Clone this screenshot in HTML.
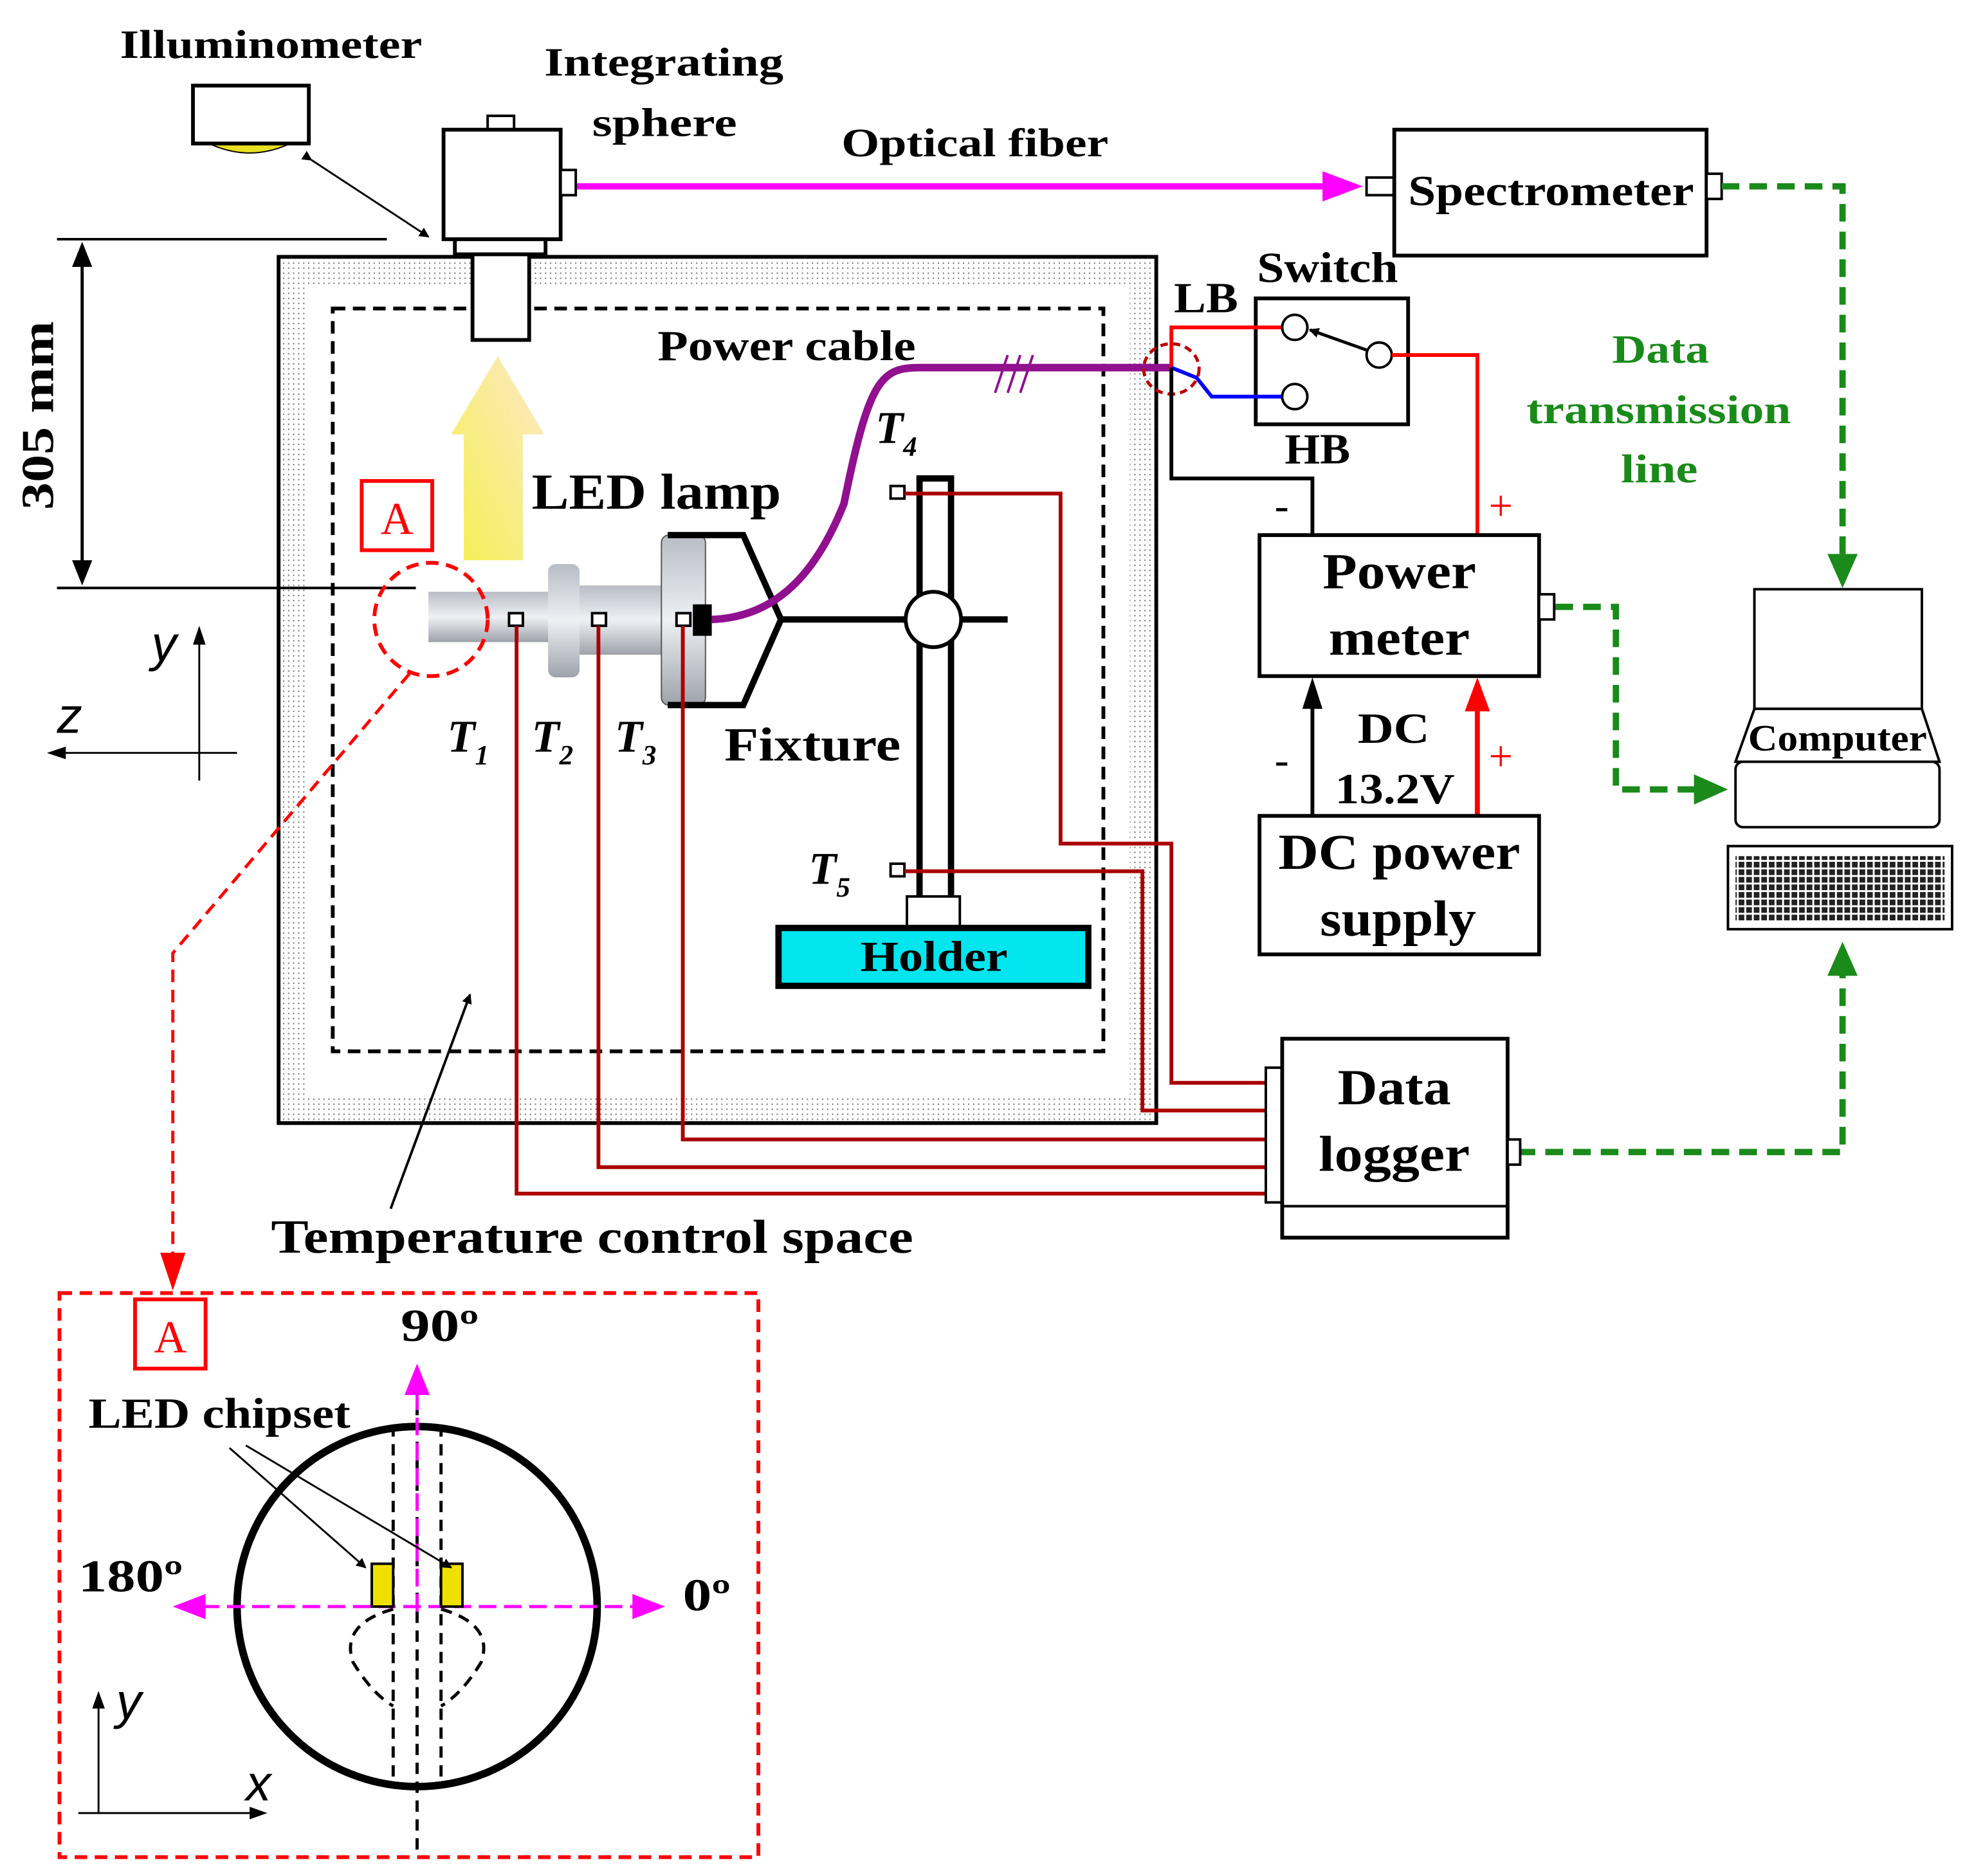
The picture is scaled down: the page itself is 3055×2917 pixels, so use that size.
<!DOCTYPE html>
<html><head><meta charset="utf-8"><style>html,body{margin:0;padding:0;background:#fff}svg{display:block}</style></head>
<body>
<svg width="3055" height="2917" viewBox="0 0 1560 1490" xmlns="http://www.w3.org/2000/svg" font-family="Liberation Serif, serif" font-weight="bold">
<defs>
<pattern id="dots" width="4" height="4" patternUnits="userSpaceOnUse"><rect width="4" height="4" fill="#fff"/><circle cx="1" cy="1" r="0.6" fill="#777"/></pattern>
<pattern id="kb" width="6" height="6" patternUnits="userSpaceOnUse"><rect width="6" height="6" fill="#fff"/><rect x="0.5" y="0.5" width="4.5" height="4.5" fill="#222"/></pattern>
<linearGradient id="ya" x1="0" y1="1" x2="1" y2="0"><stop offset="0" stop-color="#f4f050"/><stop offset="1" stop-color="#fde8c8"/></linearGradient>
<linearGradient id="met" x1="0" y1="0" x2="0" y2="1"><stop offset="0" stop-color="#b8bcc4"/><stop offset="0.5" stop-color="#eef0f4"/><stop offset="1" stop-color="#9ea2aa"/></linearGradient>
<marker id="mk" markerWidth="8" markerHeight="8" refX="7" refY="4" orient="auto" markerUnits="userSpaceOnUse"><path d="M0,0 L8,4 L0,8 z" fill="#000"/></marker>
</defs>
<!-- chamber -->
<rect x="221" y="204" width="697" height="688" fill="url(#dots)" stroke="#000" stroke-width="3"/>
<rect x="243" y="226" width="654" height="644" fill="#fff"/>
<rect x="264" y="245" width="612" height="590" fill="none" stroke="#000" stroke-width="3" stroke-dasharray="10,6"/>
<!-- illuminometer -->
<text x="95" y="46" font-size="32" textLength="240" lengthAdjust="spacingAndGlyphs">Illuminometer</text>
<rect x="153" y="68" width="92" height="46" fill="#fff" stroke="#000" stroke-width="3"/>
<path d="M168,115 Q198,128 228,115 z" fill="#e8e020" stroke="#000" stroke-width="1"/>
<line x1="247" y1="127" x2="340" y2="188" stroke="#000" stroke-width="1.5" marker-end="url(#mk)" marker-start="url(#mk)"/>
<!-- integrating sphere -->
<text x="432" y="60" font-size="32" textLength="190" lengthAdjust="spacingAndGlyphs">Integrating</text>
<text x="470" y="108" font-size="32" textLength="115" lengthAdjust="spacingAndGlyphs">sphere</text>
<rect x="387" y="92" width="21" height="11" fill="#fff" stroke="#000" stroke-width="2"/>
<rect x="352" y="103" width="93" height="87" fill="#fff" stroke="#000" stroke-width="3"/>
<rect x="445" y="135" width="12" height="20" fill="#fff" stroke="#000" stroke-width="2"/>
<rect x="361" y="190" width="72" height="12" fill="#fff" stroke="#000" stroke-width="3"/>
<rect x="375" y="202" width="45" height="68" fill="#fff" stroke="#000" stroke-width="3"/>
<!-- optical fiber -->
<text x="668" y="124" font-size="32" textLength="212" lengthAdjust="spacingAndGlyphs">Optical fiber</text>
<line x1="458" y1="148" x2="1055" y2="148" stroke="#f0f" stroke-width="5"/>
<path d="M1050,136 L1082,148 L1050,160 z" fill="#f0f"/>
<rect x="1085" y="141" width="22" height="14" fill="#fff" stroke="#000" stroke-width="2"/>
<rect x="1107" y="103" width="248" height="100" fill="#fff" stroke="#000" stroke-width="3"/>
<text x="1118" y="163" font-size="34" textLength="227" lengthAdjust="spacingAndGlyphs">Spectrometer</text>
<rect x="1355" y="138" width="12" height="20" fill="#fff" stroke="#000" stroke-width="2"/>
<!-- green data lines -->
<g stroke="#1a8a1a" stroke-width="5" fill="none" stroke-dasharray="14,8">
<path d="M1367,148 H1463 V445"/>
<path d="M1235,482 H1283 V627 H1350"/>
<path d="M1205,915 H1463 V770"/>
</g>
<path d="M1451,440 L1463,467 L1475,440 z" fill="#1a8a1a"/>
<path d="M1345,615 L1372,627 L1345,639 z" fill="#1a8a1a"/>
<path d="M1451,775 L1463,748 L1475,775 z" fill="#1a8a1a"/>
<text x="1280" y="288" font-size="32" fill="#1a8a1a" textLength="77" lengthAdjust="spacingAndGlyphs">Data</text>
<text x="1212" y="336" font-size="32" fill="#1a8a1a" textLength="210" lengthAdjust="spacingAndGlyphs">transmission</text>
<text x="1287" y="383" font-size="32" fill="#1a8a1a" textLength="61" lengthAdjust="spacingAndGlyphs">line</text>
<!-- computer -->
<rect x="1393" y="468" width="133" height="95" fill="#fff" stroke="#000" stroke-width="2"/>
<path d="M1393,563 L1378,605 H1540 L1526,563 z" fill="#fff" stroke="#000" stroke-width="2"/>
<rect x="1378" y="605" width="162" height="52" rx="6" fill="#fff" stroke="#000" stroke-width="2"/>
<text x="1388" y="596" font-size="30" textLength="142" lengthAdjust="spacingAndGlyphs">Computer</text>
<rect x="1372" y="672" width="178" height="66" fill="#fff" stroke="#000" stroke-width="2"/>
<rect x="1378" y="680" width="166" height="52" fill="url(#kb)"/>
<!-- dimension -->
<line x1="45" y1="190" x2="307" y2="190" stroke="#000" stroke-width="2"/>
<line x1="45" y1="467" x2="330" y2="467" stroke="#000" stroke-width="2"/>
<line x1="65" y1="200" x2="65" y2="457" stroke="#000" stroke-width="2.5"/>
<path d="M57,212 L65,192 L73,212 z M57,445 L65,465 L73,445 z" fill="#000"/>
<text transform="translate(42,330) rotate(-90)" font-size="36" text-anchor="middle" textLength="150" lengthAdjust="spacingAndGlyphs">305 mm</text>
<!-- axes -->
<line x1="158" y1="500" x2="158" y2="620" stroke="#000" stroke-width="1.5"/>
<path d="M153,512 L158,497 L163,512 z" fill="#000"/>
<line x1="40" y1="598" x2="188" y2="598" stroke="#000" stroke-width="1.5"/>
<path d="M52,593 L37,598 L52,603 z" fill="#000"/>
<text x="120" y="525" font-size="40" font-style="italic" font-weight="normal" font-family="Liberation Sans, sans-serif">y</text>
<text x="45" y="582" font-size="40" font-style="italic" font-weight="normal" font-family="Liberation Sans, sans-serif">z</text>
<!-- yellow arrow -->
<path d="M368,445 V345 H358 L395,283 L432,345 H415 V445 z" fill="url(#ya)"/>
<rect x="287" y="382" width="56" height="55" fill="#fff" stroke="#f00" stroke-width="3"/>
<text x="315" y="424" font-size="36" fill="#f00" text-anchor="middle" font-weight="normal">A</text>
<text x="422" y="404" font-size="40" textLength="198" lengthAdjust="spacingAndGlyphs">LED lamp</text>
<!-- lamp -->
<rect x="340" y="470" width="100" height="40" fill="url(#met)"/>
<rect x="435" y="448" width="25" height="90" rx="6" fill="url(#met)"/>
<rect x="460" y="465" width="70" height="55" fill="url(#met)"/>
<rect x="525" y="425" width="35" height="135" rx="6" fill="url(#met)" stroke="#555" stroke-width="1"/>
<rect x="550" y="480" width="15" height="25" fill="#000"/>
<g fill="#fff" stroke="#000" stroke-width="2"><rect x="404" y="487" width="11" height="10"/><rect x="470" y="487" width="11" height="10"/><rect x="537" y="487" width="11" height="10"/></g>
<!-- fixture -->
<path d="M530,425 H590 L620,492 L590,560 H530" fill="none" stroke="#000" stroke-width="5"/>
<line x1="620" y1="492" x2="800" y2="492" stroke="#000" stroke-width="5"/>
<rect x="730" y="380" width="25" height="340" fill="#fff" stroke="#000" stroke-width="5"/>
<circle cx="741" cy="492" r="22" fill="#fff" stroke="#000" stroke-width="3"/>
<rect x="720" y="712" width="42" height="25" fill="#fff" stroke="#000" stroke-width="2"/>
<rect x="618" y="737" width="246" height="46" fill="#00e5ee" stroke="#000" stroke-width="5"/>
<text x="683" y="771" font-size="34" textLength="117" lengthAdjust="spacingAndGlyphs">Holder</text>
<text x="575" y="604" font-size="38" textLength="140" lengthAdjust="spacingAndGlyphs">Fixture</text>
<!-- T labels -->
<g font-size="36" font-style="italic"><text x="355" y="597">T<tspan font-size="22" dy="10">1</tspan></text><text x="422" y="597">T<tspan font-size="22" dy="10">2</tspan></text><text x="488" y="597">T<tspan font-size="22" dy="10">3</tspan></text><text x="695" y="352">T<tspan font-size="22" dy="10">4</tspan></text><text x="642" y="702">T<tspan font-size="22" dy="10">5</tspan></text></g>
<g fill="#fff" stroke="#000" stroke-width="2"><rect x="707" y="386" width="11" height="10"/><rect x="707" y="686" width="11" height="10"/></g>
<!-- dark red wires -->
<g stroke="#a00" stroke-width="3" fill="none">
<path d="M718,392 H842 V670 H930 V860 H1005"/>
<path d="M718,692 H907 V882 H1005"/>
<path d="M542,497 V905 H1005"/>
<path d="M475,497 V927 H1005"/>
<path d="M410,497 V948 H1005"/>
</g>
<!-- power cable -->
<path d="M565,492 C620,490 650,450 670,400 C690,300 700,292 730,292 H930" fill="none" stroke="#90108f" stroke-width="6"/>
<path d="M790,312 L800,282 M800,312 L810,282 M810,312 L820,282" stroke="#90108f" stroke-width="2"/>
<text x="522" y="286" font-size="34" textLength="205" lengthAdjust="spacingAndGlyphs">Power cable</text>
<ellipse cx="930" cy="293" rx="22" ry="20" fill="none" stroke="#b00" stroke-width="2.5" stroke-dasharray="6,4"/>
<!-- switch -->
<text x="998" y="224" font-size="34" textLength="112" lengthAdjust="spacingAndGlyphs">Switch</text>
<text x="932" y="248" font-size="34" textLength="51" lengthAdjust="spacingAndGlyphs">LB</text>
<text x="1020" y="368" font-size="34" textLength="52" lengthAdjust="spacingAndGlyphs">HB</text>
<rect x="997" y="237" width="121" height="100" fill="#fff" stroke="#000" stroke-width="3"/>
<path d="M930,292 V260 H1018" stroke="#f00" stroke-width="3" fill="none"/>
<path d="M930,292 L950,300 L962,315 H1020" stroke="#00f" stroke-width="3" fill="none"/>
<path d="M930,292 V380 H1042 V425" stroke="#000" stroke-width="3" fill="none"/>
<circle cx="1028" cy="260" r="10" fill="#fff" stroke="#000" stroke-width="2"/>
<circle cx="1028" cy="315" r="10" fill="#fff" stroke="#000" stroke-width="2"/>
<circle cx="1095" cy="282" r="10" fill="#fff" stroke="#000" stroke-width="2"/>
<line x1="1085" y1="278" x2="1040" y2="262" stroke="#000" stroke-width="2.5" marker-end="url(#mk)"/>
<path d="M1105,282 H1173 V425" stroke="#f00" stroke-width="3" fill="none"/>
<text x="1182" y="413" font-size="34" fill="#f00" font-weight="normal">+</text>
<text x="1012" y="413" font-size="34" font-weight="normal">-</text>
<!-- power meter -->
<rect x="1000" y="425" width="222" height="112" fill="#fff" stroke="#000" stroke-width="3"/>
<rect x="1222" y="472" width="12" height="20" fill="#fff" stroke="#000" stroke-width="2"/>
<text x="1050" y="467" font-size="40" textLength="122" lengthAdjust="spacingAndGlyphs">Power</text>
<text x="1055" y="520" font-size="40" textLength="112" lengthAdjust="spacingAndGlyphs">meter</text>
<line x1="1042" y1="648" x2="1042" y2="560" stroke="#000" stroke-width="3"/>
<path d="M1034,563 L1042,538 L1050,563 z" fill="#000"/>
<line x1="1173" y1="648" x2="1173" y2="560" stroke="#f00" stroke-width="4"/>
<path d="M1163,565 L1173,538 L1183,565 z" fill="#f00"/>
<text x="1078" y="590" font-size="34" textLength="57" lengthAdjust="spacingAndGlyphs">DC</text>
<text x="1060" y="638" font-size="34" textLength="95" lengthAdjust="spacingAndGlyphs">13.2V</text>
<text x="1012" y="615" font-size="34" font-weight="normal">-</text>
<text x="1182" y="612" font-size="34" fill="#f00" font-weight="normal">+</text>
<rect x="1000" y="648" width="222" height="110" fill="#fff" stroke="#000" stroke-width="3"/>
<text x="1015" y="690" font-size="40" textLength="192" lengthAdjust="spacingAndGlyphs">DC power</text>
<text x="1048" y="743" font-size="40" textLength="124" lengthAdjust="spacingAndGlyphs">supply</text>
<!-- data logger -->
<rect x="1005" y="848" width="13" height="107" fill="#fff" stroke="#000" stroke-width="2"/>
<rect x="1018" y="825" width="179" height="158" fill="#fff" stroke="#000" stroke-width="3"/>
<line x1="1018" y1="958" x2="1197" y2="958" stroke="#000" stroke-width="2"/>
<rect x="1197" y="905" width="10" height="20" fill="#fff" stroke="#000" stroke-width="2"/>
<text x="1062" y="877" font-size="40" textLength="90" lengthAdjust="spacingAndGlyphs">Data</text>
<text x="1047" y="930" font-size="40" textLength="120" lengthAdjust="spacingAndGlyphs">logger</text>
<!-- temp space -->
<line x1="310" y1="960" x2="373" y2="790" stroke="#000" stroke-width="2" marker-end="url(#mk)"/>
<text x="215" y="995" font-size="38" textLength="510" lengthAdjust="spacingAndGlyphs">Temperature control space</text>
<!-- red dashed -->
<circle cx="342" cy="492" r="45" fill="none" stroke="#f00" stroke-width="3" stroke-dasharray="10,6"/>
<path d="M325,535 L137,757 V1010" fill="none" stroke="#f00" stroke-width="2.5" stroke-dasharray="10,6"/>
<path d="M127,995 L137,1025 L147,995 z" fill="#f00"/>
<rect x="47" y="1027" width="555" height="448" fill="none" stroke="#f00" stroke-width="3" stroke-dasharray="10,6"/>
<rect x="107" y="1032" width="56" height="55" fill="#fff" stroke="#f00" stroke-width="3"/>
<text x="135" y="1074" font-size="36" fill="#f00" text-anchor="middle" font-weight="normal">A</text>
<!-- inset -->
<circle cx="331" cy="1276" r="143" fill="none" stroke="#000" stroke-width="6"/>
<g stroke="#000" stroke-width="2.5" fill="none" stroke-dasharray="9,6">
<line x1="312" y1="1132" x2="312" y2="1420"/><line x1="350" y1="1132" x2="350" y2="1420"/>
<path d="M312,1278 Q270,1290 280,1320 Q295,1345 312,1355"/>
<path d="M350,1278 Q392,1290 382,1320 Q367,1345 350,1355"/>
<line x1="331" y1="1100" x2="331" y2="1470"/>
</g>
<line x1="331" y1="1280" x2="331" y2="1105" stroke="#f0f" stroke-width="2.5" stroke-dasharray="14,6"/>
<path d="M321,1108 L331,1083 L341,1108 z" fill="#f0f"/>
<line x1="160" y1="1276" x2="505" y2="1276" stroke="#f0f" stroke-width="2.5" stroke-dasharray="14,6"/>
<path d="M163,1266 L137,1276 L163,1286 z M502,1266 L528,1276 L502,1286 z" fill="#f0f"/>
<rect x="295" y="1242" width="17" height="34" fill="#f0e000" stroke="#000" stroke-width="2"/>
<rect x="350" y="1242" width="17" height="34" fill="#f0e000" stroke="#000" stroke-width="2"/>
<line x1="182" y1="1150" x2="290" y2="1245" stroke="#000" stroke-width="1.5" marker-end="url(#mk)"/>
<line x1="195" y1="1148" x2="358" y2="1245" stroke="#000" stroke-width="1.5" marker-end="url(#mk)"/>
<text x="70" y="1134" font-size="34" textLength="208" lengthAdjust="spacingAndGlyphs">LED chipset</text>
<text x="318" y="1065" font-size="36" textLength="62" lengthAdjust="spacingAndGlyphs">90º</text>
<text x="62" y="1264" font-size="36" textLength="83" lengthAdjust="spacingAndGlyphs">180º</text>
<text x="542" y="1279" font-size="36" textLength="38" lengthAdjust="spacingAndGlyphs">0º</text>
<line x1="78" y1="1350" x2="78" y2="1440" stroke="#000" stroke-width="1.5"/>
<path d="M73,1357 L78,1343 L83,1357 z" fill="#000"/>
<line x1="62" y1="1440" x2="208" y2="1440" stroke="#000" stroke-width="1.5"/>
<path d="M198,1435 L212,1440 L198,1445 z" fill="#000"/>
<text x="92" y="1365" font-size="40" font-style="italic" font-weight="normal" font-family="Liberation Sans, sans-serif">y</text>
<text x="195" y="1430" font-size="40" font-style="italic" font-weight="normal" font-family="Liberation Sans, sans-serif">x</text>
</svg>
</body></html>
